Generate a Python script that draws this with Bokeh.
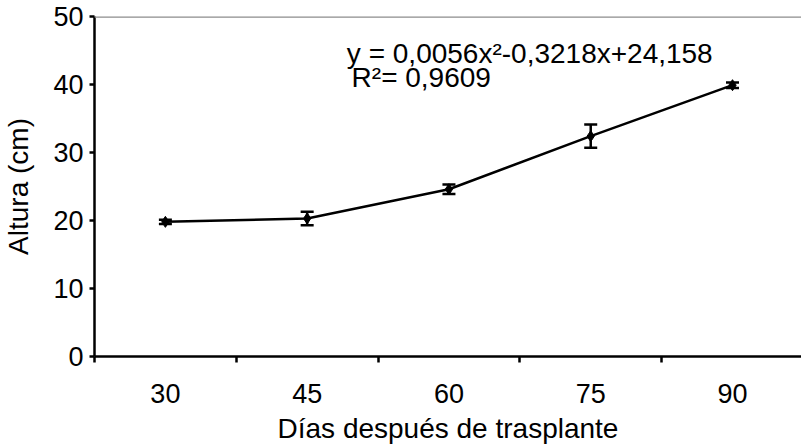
from bokeh.plotting import figure
from bokeh.models import (ColumnDataSource, Range1d, FixedTicker, Span,
                          Whisker, TeeHead, Label)
from bokeh.embed import file_html
from bokeh.resources import INLINE

# ---- data ----
days = [30, 45, 60, 75, 90]
altura = [19.8, 20.3, 24.6, 32.4, 39.9]
error = [0.3, 1.0, 0.7, 1.7, 0.4]
y_ticks = [0, 10, 20, 30, 40, 50]
eq_text = "y = 0,0056x\u00b2-0,3218x+24,158"
r2_text = "R\u00b2= 0,9609"

FONT = "Liberation Sans"
FS = "27px"
FS2 = "28px"

step = days[1] - days[0]
bounds = [d - step / 2 for d in days] + [days[-1] + step / 2]

src = ColumnDataSource(dict(
    x=days, y=altura,
    upper=[a + e for a, e in zip(altura, error)],
    lower=[a - e for a, e in zip(altura, error)],
))

p = figure(width=801, height=446, output_backend="svg", toolbar_location=None,
           x_range=Range1d(bounds[0], 97.3), y_range=Range1d(0, 50),
           min_border_left=90, min_border_right=0, min_border_top=16,
           min_border_bottom=90)
p.outline_line_color = None
p.xgrid.grid_line_color = None
p.ygrid.grid_line_color = None
p.background_fill_color = "white"
p.border_fill_color = "white"

# x axis
xa = p.xaxis[0]
xa.ticker = FixedTicker(ticks=days, minor_ticks=bounds)
xa.major_tick_line_color = None
xa.major_tick_out = 0
xa.major_tick_in = 0
xa.minor_tick_line_color = "black"
xa.minor_tick_line_width = 2.5
xa.minor_tick_out = 6
xa.minor_tick_in = 0
xa.axis_line_color = "black"
xa.axis_line_width = 2.5
xa.major_label_text_font = FONT
xa.major_label_text_font_size = FS
xa.major_label_text_color = "black"
xa.major_label_standoff = 21
xa.axis_label = "Días después de trasplante"
xa.axis_label_text_font = FONT
xa.axis_label_text_font_size = FS2
xa.axis_label_text_font_style = "normal"
xa.axis_label_text_color = "black"
xa.axis_label_standoff = 7

# y axis
ya = p.yaxis[0]
ya.ticker = FixedTicker(ticks=y_ticks)
ya.minor_tick_line_color = None
ya.major_tick_line_color = "black"
ya.major_tick_line_width = 2.5
ya.major_tick_out = 5
ya.major_tick_in = 0
ya.axis_line_color = "black"
ya.axis_line_width = 2.5
ya.major_label_text_font = FONT
ya.major_label_text_font_size = FS
ya.major_label_text_color = "black"
ya.major_label_standoff = 6
ya.axis_label = "Altura (cm)"
ya.axis_label_text_font = FONT
ya.axis_label_text_font_size = FS2
ya.axis_label_text_font_style = "normal"
ya.axis_label_text_color = "black"
ya.axis_label_standoff = 16

# top gray line
p.add_layout(Span(location=y_ticks[-1], dimension="width",
                  line_color="#8c8c8c", line_width=2.5))

# data
p.line("x", "y", source=src, line_color="black", line_width=2.5)
p.scatter("x", "y", source=src, marker="diamond", size=11, color="black")
wh = Whisker(base="x", upper="upper", lower="lower", source=src,
             line_color="black", line_width=2.5,
             upper_head=TeeHead(size=13, line_color="black", line_width=2.5),
             lower_head=TeeHead(size=13, line_color="black", line_width=2.5))
p.add_layout(wh)

p.add_layout(Label(x=49.2, y=44.5, text=eq_text, text_font=FONT,
                   text_font_size=FS2, text_color="black",
                   text_baseline="alphabetic"))
p.add_layout(Label(x=49.7, y=41.1, text=r2_text, text_font=FONT,
                   text_font_size=FS2, text_color="black",
                   text_baseline="alphabetic"))

open("out.html", "w").write(file_html(p, INLINE))
